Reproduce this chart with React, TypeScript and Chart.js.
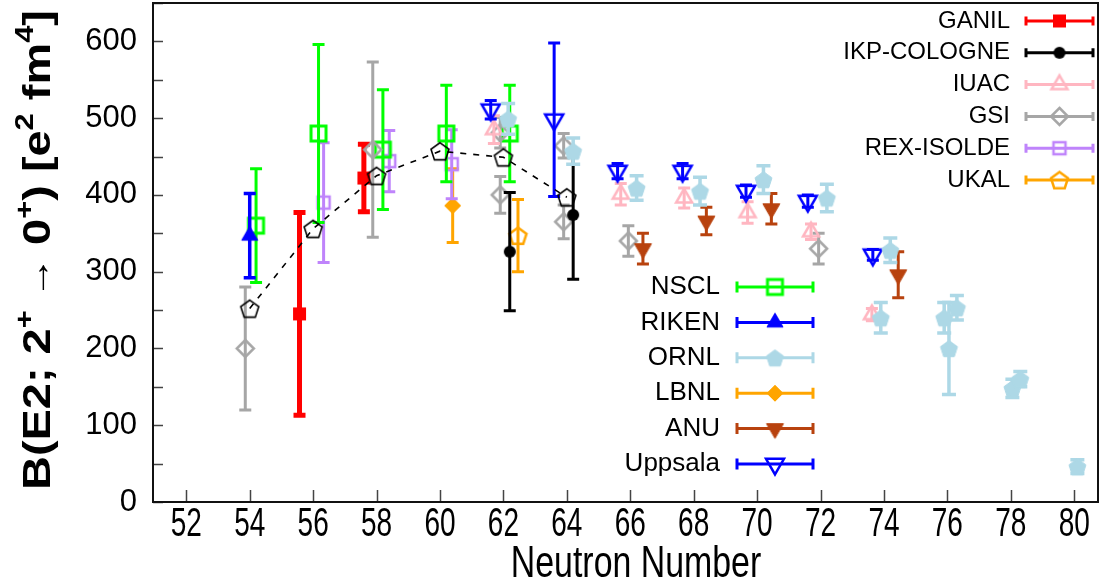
import React, { useEffect, useRef } from 'react';
import { Chart, registerables } from 'chart.js';

Chart.register(...registerables);

// ---- axes ----
const xTicks = [52, 54, 56, 58, 60, 62, 64, 66, 68, 70, 72, 74, 76, 78, 80];
const yTicks = [0, 50, 100, 150, 200, 250, 300, 350, 400, 450, 500, 550, 600, 650];
const xTitle = 'Neutron Number';

// ---- series (neutron number, B(E2), symmetric error) ----
const theoryN = [54, 56, 58, 60, 62, 64];
const theoryB = [252, 356, 425, 457, 449, 397];

const ganilN = [55.57, 57.6];
const ganilB = [245, 422];
const ganilErr = [132, 44];

const ikpN = [62.2, 64.2];
const ikpB = [326, 374];
const ikpErr = [77, 84];

const iuacN = [61.7, 65.7, 67.7, 69.7, 71.7, 73.62];
const iuacB = [485, 401, 396, 377, 352, 244];
const iuacErr = [18, 14, 13, 14, 10, 8];

const gsiN = [53.86, 57.88, 61.9, 61.9, 63.9, 63.9, 65.94, 71.94];
const gsiB = [200, 459, 481, 400, 464, 365, 340, 330];
const gsiErr = [80, 114, 20, 24, 16, 22, 20, 20];

const rexN = [56.33, 58.4, 60.37];
const rexB = [390, 444, 440];
const rexErr = [78, 40, 45];

const ukalN = [62.46];
const ukalB = [347];
const ukalErr = [47];

const nsclN = [54.2, 56.17, 58.2, 60.2, 62.2];
const nsclB = [360, 480, 459, 480, 480];
const nsclErr = [74, 116, 78, 63, 63];

const rikenN = [54.0];
const rikenB = [347];
const rikenErr = [55];

const ornlN = [62.15, 64.2, 66.2, 68.2, 70.2, 72.2, 73.9, 74.2, 75.9, 76.05, 76.3, 78.05, 78.3, 80.1];
const ornlB = [499, 457, 409, 405, 420, 396, 240, 328, 240, 200, 253, 148, 160, 46];
const ornlErr = [20, 17, 16, 18, 18, 18, 20, 16, 20, 60, 16, 12, 10, 9];

const lbnlN = [60.4];
const lbnlB = [386];
const lbnlErr = [48];

const anuN = [66.4, 68.4, 70.45, 74.45];
const anuB = [330, 366, 382, 296];
const anuErr = [20, 18, 20, 30];

const uppN = [61.6, 63.6, 65.6, 67.65, 69.65, 71.6, 73.65];
const uppB = [511, 498, 431, 431, 405, 392, 322];
const uppErr = [12, 100, 10, 10, 8, 8, 7];

const legendTop = ['GANIL', 'IKP-COLOGNE', 'IUAC', 'GSI', 'REX-ISOLDE', 'UKAL'];
const legendMid = ['NSCL', 'RIKEN', 'ORNL', 'LBNL', 'ANU', 'Uppsala'];

const FONT = '"Liberation Sans", Arial, sans-serif';

type Shape = 'square' | 'circle' | 'tri' | 'itri' | 'diamond' | 'pent';

function makeMarker(shape: Shape, size: number, fill: string | null, stroke: string | null, lw: number) {
  const pad = Math.ceil(lw) + 2;
  const dim = Math.ceil(size + 2 * pad);
  const c = document.createElement('canvas');
  c.width = dim;
  c.height = dim;
  const ctx = c.getContext('2d')!;
  const cx = dim / 2, cy = dim / 2, r = size / 2;
  ctx.beginPath();
  if (shape === 'square') {
    ctx.rect(cx - r, cy - r, 2 * r, 2 * r);
  } else if (shape === 'circle') {
    ctx.arc(cx, cy, r, 0, Math.PI * 2);
  } else if (shape === 'tri' || shape === 'itri') {
    const h = size * 0.866;
    const s = shape === 'tri' ? 1 : -1;
    ctx.moveTo(cx, cy - s * h * 2 / 3);
    ctx.lineTo(cx + r, cy + s * h / 3);
    ctx.lineTo(cx - r, cy + s * h / 3);
    ctx.closePath();
  } else if (shape === 'diamond') {
    ctx.moveTo(cx, cy - r);
    ctx.lineTo(cx + r, cy);
    ctx.lineTo(cx, cy + r);
    ctx.lineTo(cx - r, cy);
    ctx.closePath();
  } else {
    const R = size / 1.902;
    for (let k = 0; k < 5; k++) {
      const a = -Math.PI / 2 + (k * 2 * Math.PI) / 5;
      const px = cx + R * Math.cos(a);
      const py = cy + 1 + R * Math.sin(a);
      if (k === 0) ctx.moveTo(px, py); else ctx.lineTo(px, py);
    }
    ctx.closePath();
  }
  if (fill) {
    ctx.fillStyle = fill;
    ctx.fill();
  }
  if (stroke && lw > 0) {
    ctx.strokeStyle = stroke;
    ctx.lineWidth = lw;
    ctx.lineJoin = 'miter';
    ctx.stroke();
  }
  return c;
}

const pts = (xs: number[], ys: number[]) => xs.map((x, i) => ({ x, y: ys[i] }));

const customPlugin = {
  id: 'customDraw',
  beforeDatasetDraw(chart: any, args: any) {
    const ds = chart.data.datasets[args.index];
    if (!ds.errors) return;
    const xs = chart.scales.x, ys = chart.scales.y;
    const ctx = chart.ctx;
    ctx.save();
    ctx.strokeStyle = ds.errColor;
    ctx.lineWidth = ds.errWidth;
    const cap = ds.capHalf;
    ds.data.forEach((p: any, i: number) => {
      const e = ds.errors[i];
      const px = xs.getPixelForValue(p.x);
      const top = ys.getPixelForValue(p.y + e);
      const bot = ys.getPixelForValue(p.y - e);
      ctx.beginPath();
      ctx.moveTo(px, top);
      ctx.lineTo(px, bot);
      ctx.moveTo(px - cap, top);
      ctx.lineTo(px + cap, top);
      ctx.moveTo(px - cap, bot);
      ctx.lineTo(px + cap, bot);
      ctx.stroke();
    });
    ctx.restore();
  },
  afterDraw(chart: any) {
    const ctx = chart.ctx;
    const area = chart.chartArea;
    const xs = chart.scales.x, ys = chart.scales.y;
    ctx.save();
    // inward ticks
    ctx.strokeStyle = '#444';
    ctx.lineWidth = 1.5;
    ctx.beginPath();
    yTicks.forEach((v) => {
      const py = Math.round(ys.getPixelForValue(v)) + 0.5;
      ctx.moveTo(area.left, py);
      ctx.lineTo(area.left + 10, py);
    });
    xTicks.forEach((v) => {
      const px = Math.round(xs.getPixelForValue(v)) + 0.5;
      ctx.moveTo(px, area.bottom);
      ctx.lineTo(px, area.bottom - 12);
    });
    ctx.stroke();
    // frame
    ctx.strokeStyle = '#111';
    ctx.lineWidth = 2;
    ctx.strokeRect(area.left, area.top, area.right - area.left, area.bottom - area.top);

    // x tick labels (tall, condensed look)
    ctx.fillStyle = '#000';
    ctx.textAlign = 'center';
    ctx.textBaseline = 'middle';
    xTicks.forEach((v) => {
      const px = xs.getPixelForValue(v);
      ctx.save();
      ctx.translate(px, 525);
      ctx.scale(0.7, 1);
      ctx.font = `40px ${FONT}`;
      ctx.fillText(String(v), 0, 0);
      ctx.restore();
    });
    // x title
    ctx.save();
    ctx.translate(636, 565);
    ctx.scale(0.77, 1);
    ctx.font = `44px ${FONT}`;
    ctx.fillText(xTitle, 0, 0);
    ctx.restore();

    // y title with superscripts
    const parts = [
      { t: 'B(E2; 2', f: `bold 38px ${FONT}`, sup: false },
      { t: '+', f: `bold 25px ${FONT}`, sup: true },
      { t: ' \u2192 ', f: `34px ${FONT}`, sup: false },
      { t: '0', f: `bold 38px ${FONT}`, sup: false },
      { t: '+', f: `bold 25px ${FONT}`, sup: true },
      { t: ') [e', f: `bold 38px ${FONT}`, sup: false },
      { t: '2', f: `bold 25px ${FONT}`, sup: true },
      { t: ' fm', f: `bold 38px ${FONT}`, sup: false },
      { t: '4', f: `bold 25px ${FONT}`, sup: true },
      { t: ']', f: `bold 38px ${FONT}`, sup: false },
    ];
    let total = 0;
    const widths = parts.map((p) => {
      ctx.font = p.f;
      const w = ctx.measureText(p.t).width;
      total += w;
      return w;
    });
    const sx = 480 / total;
    ctx.save();
    ctx.translate(40, 250);
    ctx.rotate(-Math.PI / 2);
    ctx.scale(sx, 1);
    ctx.textAlign = 'left';
    ctx.textBaseline = 'middle';
    let cur = -total / 2;
    parts.forEach((p, i) => {
      ctx.font = p.f;
      ctx.fillText(p.t, cur, p.sup ? -14 : 0);
      cur += widths[i];
    });
    ctx.restore();

    // legends
    const drawLegend = (labels: string[], textRight: number, x1: number, x2: number, y0: number, dy: number, fontSize: number, capH: number) => {
      labels.forEach((lab, i) => {
        const ds = chart.data.datasets.find((d: any) => d.label === lab);
        if (!ds) return;
        const y = y0 + i * dy;
        ctx.fillStyle = '#000';
        ctx.font = `${fontSize}px ${FONT}`;
        ctx.textAlign = 'right';
        ctx.textBaseline = 'middle';
        ctx.fillText(lab, textRight, y);
        ctx.strokeStyle = ds.errColor;
        ctx.lineWidth = 3;
        ctx.beginPath();
        ctx.moveTo(x1, y);
        ctx.lineTo(x2, y);
        ctx.moveTo(x1, y - capH / 2);
        ctx.lineTo(x1, y + capH / 2);
        ctx.moveTo(x2, y - capH / 2);
        ctx.lineTo(x2, y + capH / 2);
        ctx.stroke();
        const img = ds.pointStyle as HTMLCanvasElement;
        ctx.drawImage(img, (x1 + x2) / 2 - img.width / 2, y - img.height / 2);
      });
    };
    drawLegend(legendTop, 1010, 1026, 1093, 21, 31.8, 24, 9);
    drawLegend(legendMid, 720, 737, 813, 287, 35.4, 26, 11);
    ctx.restore();
  },
};

export default function App() {
  const ref = useRef<HTMLCanvasElement>(null);

  useEffect(() => {
    document.body.style.margin = '0';
    const lime = '#00ff00';
    const blue = '#0000ff';
    const lightBlue = '#add8e6';
    const orange = '#ffa500';
    const brown = '#b8420e';
    const red = '#ff0000';
    const pink = '#ffb6c1';
    const gray = '#a6a6a6';
    const purple = '#bf84fb';

    const mk = (
      label: string,
      xs: number[],
      ysv: number[],
      errs: number[] | null,
      marker: HTMLCanvasElement,
      color: string,
      errWidth = 3,
      capHalf = 6,
    ) => ({
      label,
      data: pts(xs, ysv),
      errors: errs,
      errColor: color,
      errWidth,
      capHalf,
      pointStyle: marker,
      pointRadius: 6,
      pointHoverRadius: 6,
      showLine: false,
      borderColor: color,
      backgroundColor: color,
    });

    const theory: any = {
      label: 'theory',
      data: pts(theoryN, theoryB),
      errors: null,
      pointStyle: makeMarker('pent', 18, null, '#000', 1.6),
      pointRadius: 6,
      showLine: true,
      borderColor: '#000',
      borderWidth: 1.6,
      borderDash: [6, 7],
      tension: 0,
      fill: false,
    };

    const datasets: any[] = [
      theory,
      mk('ORNL', ornlN, ornlB, ornlErr, makeMarker('pent', 17, lightBlue, lightBlue, 1), lightBlue, 3.5, 7),
      mk('IKP-COLOGNE', ikpN, ikpB, ikpErr, makeMarker('circle', 12, '#000', null, 0), '#000', 3, 6),
      mk('Uppsala', uppN, uppB, uppErr, makeMarker('itri', 18, null, blue, 2.5), blue, 3, 6),
      mk('ANU', anuN, anuB, anuErr, makeMarker('itri', 17, brown, brown, 1), brown, 3, 6),
      mk('IUAC', iuacN, iuacB, iuacErr, makeMarker('tri', 16, null, pink, 2.5), pink, 3, 6),
      mk('GSI', gsiN, gsiB, gsiErr, makeMarker('diamond', 17, null, gray, 2.5), gray, 3, 6),
      mk('GANIL', ganilN, ganilB, ganilErr, makeMarker('square', 13, red, null, 0), red, 5, 6),
      mk('RIKEN', rikenN, rikenB, rikenErr, makeMarker('tri', 16, blue, blue, 1), blue, 3.5, 6),
      mk('NSCL', nsclN, nsclB, nsclErr, makeMarker('square', 15, null, lime, 3), lime, 3, 6),
      mk('REX-ISOLDE', rexN, rexB, rexErr, makeMarker('square', 12, null, purple, 2.5), purple, 3, 6),
      mk('LBNL', lbnlN, lbnlB, lbnlErr, makeMarker('diamond', 16, orange, orange, 1), orange, 3, 6),
      mk('UKAL', ukalN, ukalB, ukalErr, makeMarker('pent', 17, null, orange, 2.5), orange, 3, 6),
    ];

    const chart = new Chart(ref.current!, {
      type: 'scatter',
      data: { datasets },
      options: {
        responsive: false,
        devicePixelRatio: 1,
        animation: false,
        events: [],
        layout: { autoPadding: false, padding: { top: 3, right: 3, left: 0, bottom: 0 } },
        plugins: {
          legend: { display: false },
          tooltip: { enabled: false },
        },
        scales: {
          x: {
            type: 'linear',
            min: 50.95,
            max: 80.75,
            afterBuildTicks: (s: any) => {
              s.ticks = xTicks.map((v) => ({ value: v }));
            },
            afterFit: (s: any) => {
              s.height = 84;
              s.paddingLeft = 0;
              s.paddingRight = 0;
            },
            ticks: { display: false },
            grid: { display: false, drawTicks: false },
            border: { display: false },
          },
          y: {
            type: 'linear',
            min: 0,
            max: 650,
            afterBuildTicks: (s: any) => {
              s.ticks = yTicks.map((v) => ({ value: v }));
            },
            afterFit: (s: any) => {
              s.width = 153;
              s.paddingTop = 0;
              s.paddingBottom = 0;
            },
            ticks: {
              padding: 16,
              color: '#000',
              font: { size: 31, family: FONT },
              callback: (v: any) => (Number(v) % 100 === 0 && Number(v) <= 600 ? String(v) : ''),
            },
            grid: { display: false, drawTicks: false },
            border: { display: false },
          },
        },
      } as any,
      plugins: [customPlugin as any],
    });
    return () => chart.destroy();
  }, []);

  return <canvas ref={ref} width={1101} height={586} style={{ display: 'block' }} />;
}
